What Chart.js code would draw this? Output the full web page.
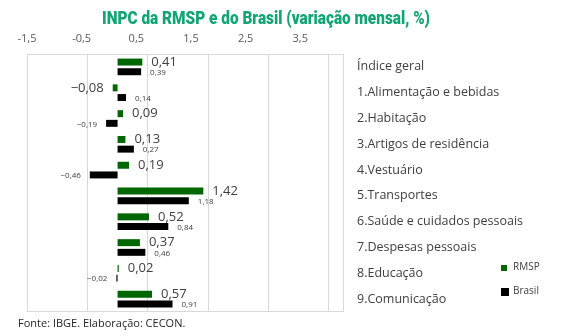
<!DOCTYPE html>
<html lang="pt-BR">
<head>
  <meta charset="UTF-8" />
  <title>INPC da RMSP e do Brasil</title>
  <script src="https://cdn.jsdelivr.net/npm/chart.js"></script>
  <style>
    html, body { margin: 0; padding: 0; background: #fff; }
    #box { position: relative; width: 572px; height: 336px; }
  </style>
</head>
<body>
  <div id="box"><canvas id="inpcChart" width="572" height="336"></canvas></div>

  <script>
    const categorias = [
      "Índice geral",
      "1.Alimentação e bebidas",
      "2.Habitação",
      "3.Artigos de residência",
      "4.Vestuário",
      "5.Transportes",
      "6.Saúde e cuidados pessoais",
      "7.Despesas pessoais",
      "8.Educação",
      "9.Comunicação"
    ];
    const rmsp = [0.41, -0.08, 0.09, 0.13, 0.19, 1.42, 0.52, 0.37, 0.02, 0.57];
    const brasil = [0.39, 0.14, -0.19, 0.27, -0.46, 1.18, 0.84, 0.46, -0.02, 0.91];
    const ticksX = [-1.5, -0.5, 0.5, 1.5, 2.5, 3.5];

    const fmt = v => v.toFixed(2).replace(".", ",").replace("-", "\u2212");
    const FONT = "'Open Sans', sans-serif";

    // valores ao lado das barras + moldura, título, legenda e fonte
    const extras = {
      id: "extras",
      afterDatasetsDraw(chart) {
        const ctx = chart.ctx;
        const a = chart.chartArea;
        ctx.save();
        ctx.strokeStyle = "#d9d9d9";
        ctx.lineWidth = 1;
        ctx.strokeRect(Math.round(a.left) + 0.5, Math.round(a.top) + 0.5,
          Math.round(a.right - a.left) - 1, Math.round(a.bottom - a.top) - 1);

        ctx.textBaseline = "middle";
        chart.data.datasets.forEach((ds, di) => {
          const meta = chart.getDatasetMeta(di);
          ctx.font = di === 0 ? "13px " + FONT : "8px " + FONT;
          ctx.fillStyle = "#404040";
          meta.data.forEach((bar, i) => {
            const v = ds.data[i];
            const base = bar.base;
            if (v >= 0) {
              ctx.textAlign = "left";
              ctx.fillText(fmt(v), Math.max(bar.x, base) + 9, bar.y + (di === 0 ? 0 : 1));
            } else {
              ctx.textAlign = "right";
              ctx.fillText(fmt(v), Math.min(bar.x, base) - 9, bar.y + (di === 0 ? 0 : 1));
            }
          });
        });

        // título, fonte estreita (comprimida na horizontal)
        const titulo = "INPC da RMSP e do Brasil (variação mensal, %)";
        ctx.font = "900 19px Roboto, sans-serif";
        const w = ctx.measureText(titulo).width;
        const sx = 328 / w;
        ctx.save();
        ctx.translate(266, 19);
        ctx.scale(sx, 1);
        ctx.textAlign = "center";
        ctx.fillStyle = "#12a474";
        ctx.fillText(titulo, 0, 0);
        ctx.restore();

        // legenda
        ctx.textAlign = "left";
        ctx.font = "10px " + FONT;
        ctx.fillStyle = "#006600";
        ctx.fillRect(501, 265, 6, 6);
        ctx.fillStyle = "#000";
        ctx.fillRect(501, 288, 8, 8);
        ctx.fillStyle = "#404040";
        ctx.fillText("RMSP", 513, 267);
        ctx.fillText("Brasil", 513, 291);

        // fonte
        ctx.font = "11px " + FONT;
        ctx.fillStyle = "#262626";
        ctx.fillText("Fonte: IBGE. Elaboração: CECON.", 18, 324);
        ctx.restore();
      }
    };

    new Chart(document.getElementById("inpcChart"), {
      type: "bar",
      data: {
        labels: categorias,
        datasets: [
          { label: "RMSP", data: rmsp, backgroundColor: "#006600" },
          { label: "Brasil", data: brasil, backgroundColor: "#000000" }
        ]
      },
      options: {
        indexAxis: "y",
        responsive: false,
        animation: false,
        layout: { padding: { left: 27, top: 34, bottom: 24, right: 0 } },
        datasets: { bar: { categoryPercentage: 0.75, barPercentage: 0.72 } },
        plugins: { legend: { display: false }, tooltip: { enabled: false } },
        scales: {
          x: {
            min: -1.5, max: 3.75,
            afterBuildTicks: s => { s.ticks = ticksX.map(v => ({ value: v })); },
            ticks: { display: false },
            grid: { color: "#d9d9d9", drawTicks: false },
            border: { display: false }
          },
          x2: {
            position: "top",
            min: -1.5, max: 4.3,
            afterBuildTicks: s => { s.ticks = ticksX.map(v => ({ value: v })); },
            afterFit: s => { s.height = 20; },
            ticks: {
              autoSkip: false, maxRotation: 0, padding: 9,
              color: "#595959", font: { family: "'Open Sans'", size: 11 },
              callback: v => v.toFixed(1).replace(".", ",")
            },
            grid: { display: false, drawTicks: false },
            border: { display: false }
          },
          y: {
            position: "right",
            afterFit: s => { s.width = 228; },
            ticks: {
              padding: 13, color: "#404040",
              font: { family: "'Open Sans'", size: 12.5 }
            },
            grid: { display: false, drawTicks: false },
            border: { display: false }
          }
        }
      },
      plugins: [extras]
    });
  </script>
</body>
</html>
